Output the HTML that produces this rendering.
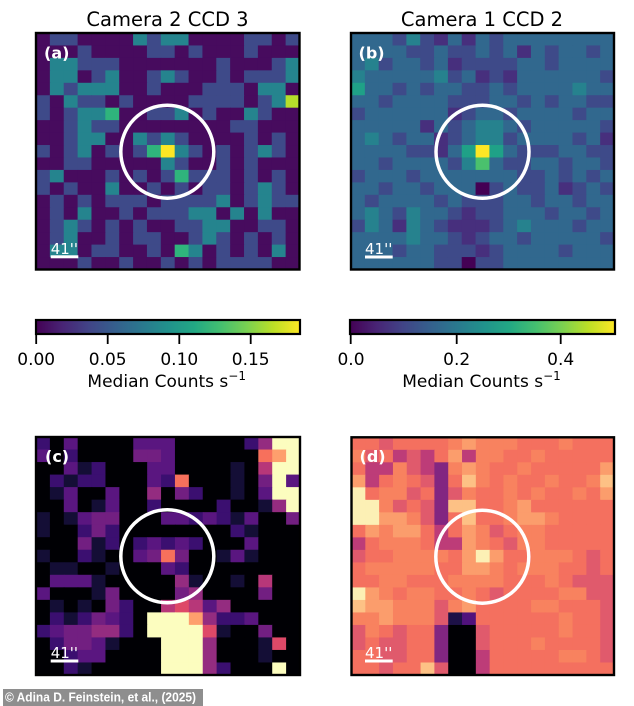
<!DOCTYPE html>
<html><head><meta charset="utf-8"><style>
html,body{margin:0;padding:0;background:#fff;}
svg{display:block;}
</style></head><body>
<svg id="s" width="634" height="706" viewBox="0 0 634 706" xmlns="http://www.w3.org/2000/svg" font-family="'DejaVu Sans','Liberation Sans',sans-serif">
<defs>
<linearGradient id="vir" x1="0" x2="1" y1="0" y2="0">
<stop offset="0" stop-color="#440154"/><stop offset="0.1" stop-color="#482475"/><stop offset="0.2" stop-color="#414487"/><stop offset="0.3" stop-color="#355f8d"/><stop offset="0.4" stop-color="#2a788e"/><stop offset="0.5" stop-color="#21918c"/><stop offset="0.6" stop-color="#22a884"/><stop offset="0.7" stop-color="#44bf70"/><stop offset="0.8" stop-color="#7ad151"/><stop offset="0.9" stop-color="#bddf26"/><stop offset="1" stop-color="#fde725"/>
</linearGradient>
</defs>
<rect width="634" height="706" fill="#fff"/>

<g id="pa"><rect x="36" y="33" width="263.5" height="236.5" fill="#42306e"/></g>
<g id="pb"><rect x="351" y="33" width="263" height="236.5" fill="#35608c"/></g>
<g id="pc"><rect x="36" y="437" width="264" height="238" fill="#1a0a2a"/></g>
<g id="pd"><rect x="351.5" y="437.3" width="262.5" height="237.7" fill="#f2735f"/></g>

<!-- titles -->
<text x="167.5" y="26" font-size="19.5" text-anchor="middle" fill="#000">Camera 2 CCD 3</text>
<text x="482" y="26" font-size="19.5" text-anchor="middle" fill="#000">Camera 1 CCD 2</text>

<!-- circles -->
<g fill="none" stroke="#fff" stroke-width="3.5">
<circle cx="167.3" cy="151.7" r="46.5"/>
<circle cx="482.5" cy="151.8" r="46.5"/>
<circle cx="167.3" cy="556.3" r="46.5"/>
<circle cx="482.3" cy="556.7" r="46.5"/>
</g>

<!-- panel labels -->
<g fill="#fff" font-weight="bold" font-size="16">
<text x="44" y="58.5">(a)</text>
<text x="358.5" y="58.5">(b)</text>
<text x="45" y="462">(c)</text>
<text x="359.5" y="462">(d)</text>
</g>

<!-- scale bars -->
<g fill="#fff" font-size="15">
<text x="50.7" y="254">41''</text>
<rect x="50.7" y="255.3" width="27.6" height="3"/>
<text x="365" y="254">41''</text>
<rect x="365" y="255.5" width="27.7" height="3"/>
<text x="50.7" y="658">41''</text>
<rect x="50.7" y="659.5" width="27.6" height="3"/>
<text x="365" y="658">41''</text>
<rect x="365" y="659.5" width="27.7" height="3"/>
</g>

<!-- frames -->
<g fill="none" stroke="#000" stroke-width="2.4">
<rect x="36" y="33" width="263.5" height="236.5"/>
<rect x="351" y="33" width="263" height="236.5"/>
<rect x="36" y="437" width="264" height="238"/>
<rect x="351.5" y="437.3" width="262.5" height="237.7"/>
</g>

<!-- colorbars -->
<rect x="36" y="320" width="264" height="14" fill="url(#vir)" stroke="#000" stroke-width="2.2"/>
<rect x="350" y="320" width="265" height="14" fill="url(#vir)" stroke="#000" stroke-width="2.2"/>
<g stroke="#000" stroke-width="1.8">
<line x1="36.2" y1="334" x2="36.2" y2="344"/>
<line x1="107.7" y1="334" x2="107.7" y2="344"/>
<line x1="179.3" y1="334" x2="179.3" y2="344"/>
<line x1="250.7" y1="334" x2="250.7" y2="344"/>
<line x1="350.7" y1="334" x2="350.7" y2="344"/>
<line x1="456.7" y1="334" x2="456.7" y2="344"/>
<line x1="560.7" y1="334" x2="560.7" y2="344"/>
</g>
<g font-size="17" text-anchor="middle" fill="#000">
<text x="36.2" y="365">0.00</text>
<text x="107.7" y="365">0.05</text>
<text x="179.3" y="365">0.10</text>
<text x="250.7" y="365">0.15</text>
<text x="351" y="365">0.0</text>
<text x="456.7" y="365">0.2</text>
<text x="560.7" y="365">0.4</text>
<text x="166.7" y="387">Median Counts s<tspan dy="-7" font-size="12">−1</tspan></text>
<text x="481.5" y="387">Median Counts s<tspan dy="-7" font-size="12">−1</tspan></text>
</g>

<!-- footer -->
<rect x="3" y="689" width="200" height="17" fill="#8e8e8e"/>
<text x="5" y="701.5" font-family="'Liberation Sans',Arial,sans-serif" font-weight="bold" font-size="12.5" fill="#fff" textLength="191" lengthAdjust="spacingAndGlyphs">© Adina D. Feinstein, et al., (2025)</text>
</svg>

<script>
(function(){
var NS="http://www.w3.org/2000/svg";
var vA={"0":"#470b5e","1":"#472c7a","2":"#3e4a89","3":"#2c718e","4":"#25848e","5":"#2fb47c","6":"#5ec962","7":"#b5de2b","8":"#fde725"};
var vB={"0":"#440154","1":"#472f7d","2":"#3e4a89","3":"#31688e","4":"#26828e","5":"#1fa187","6":"#4ac16d","8":"#fde725"};
var mC={"0":"#000004","1":"#140e36","2":"#3b0f70","3":"#5a1680","4":"#721f81","5":"#942c80","6":"#b73779","7":"#de4968","8":"#f7705c","9":"#fe9f6d","Y":"#fcfdbf"};
var mD={"0":"#000004","1":"#1d1147","2":"#51127c","3":"#822681","4":"#bd3c78","5":"#e05a6c","6":"#f4705f","7":"#f8825f","8":"#fb9d6c","9":"#fdc185","W":"#fcf0b5"};
var A=["0220000424400002202","0002000022020002000","0442220000000200024","0440240024200202224","0424440020002220440","2042202000022220247","2024450022402004200","0024220000000022000","0024400424200002020","2024020258420202420","0022000004200202000","2400020202522202020","2020040020202202420","0202022202222402422","0204002022244040400","0242020200224400220","0240020220024202020","0440220020540202040","0002002002020222200"];
var B=["3332421313233333333","3333223223231323323","3423323122223323333","4333334231213333332","5332323322323333433","3323333222332323322","2333333123323333233","3333313234432333332","3432331234423333231","3333221358532223322","3323333246322332332","2333233333332232323","3323323330232231232","3233332322233233233","3432433212233323323","2431432111234333233","3333433212332333332","3332332221233332333","3333332202233333333"];
var C=["20300003330000025YY","302000044300000089Y","00312000330000106YY","02122000328000104Y3","01300300504200103YY","003013002000020015Y","1013440003323213004","1002420000000021000","0004120232320003000","1002100348400131000","0110010003200000000","0333100000510010600","3000140000450000400","0101042006763500000","02124320YYY95223000","23445520YYYY7100400","024431000YYY5000170","002330000YYY5000100","002100000YYY52000Y0"];
var D=["6656666787776667666","7564546847766766666","6447543787667666668","8467653697676676679","W677563576676766768","WW75653996678666666","WW88753696678876666","6878864687567766666","4677764487657766666","566777768W866777656","6777776688767776656","6677666777766676555","W876776676566667755","9887775786666776665","7787775126666667665","5765663005666667665","5655663005666766665","6655663004666667765","6656695004666666666"];
function draw(id,x0,y0,W,H,rows,map){
 var g=document.getElementById(id),n=19,w=W/n,h=H/n;
 for(var i=0;i<n;i++){var r=rows[i];for(var j=0;j<n;j++){
  var e=document.createElementNS(NS,"rect");
  e.setAttribute("x",(x0+j*w).toFixed(2));
  e.setAttribute("y",(y0+i*h).toFixed(2));
  e.setAttribute("width",(w+0.6).toFixed(2));
  e.setAttribute("height",(h+0.6).toFixed(2));
  e.setAttribute("fill",map[r.charAt(j)]||"#000");
  g.appendChild(e);
 }}
}
draw("pa",36,33,263.5,236.5,A,vA);
draw("pb",351,33,263,236.5,B,vB);
draw("pc",36,437,264,238,C,mC);
draw("pd",351.5,437.3,262.5,237.7,D,mD);
})();
</script>
</body></html>
